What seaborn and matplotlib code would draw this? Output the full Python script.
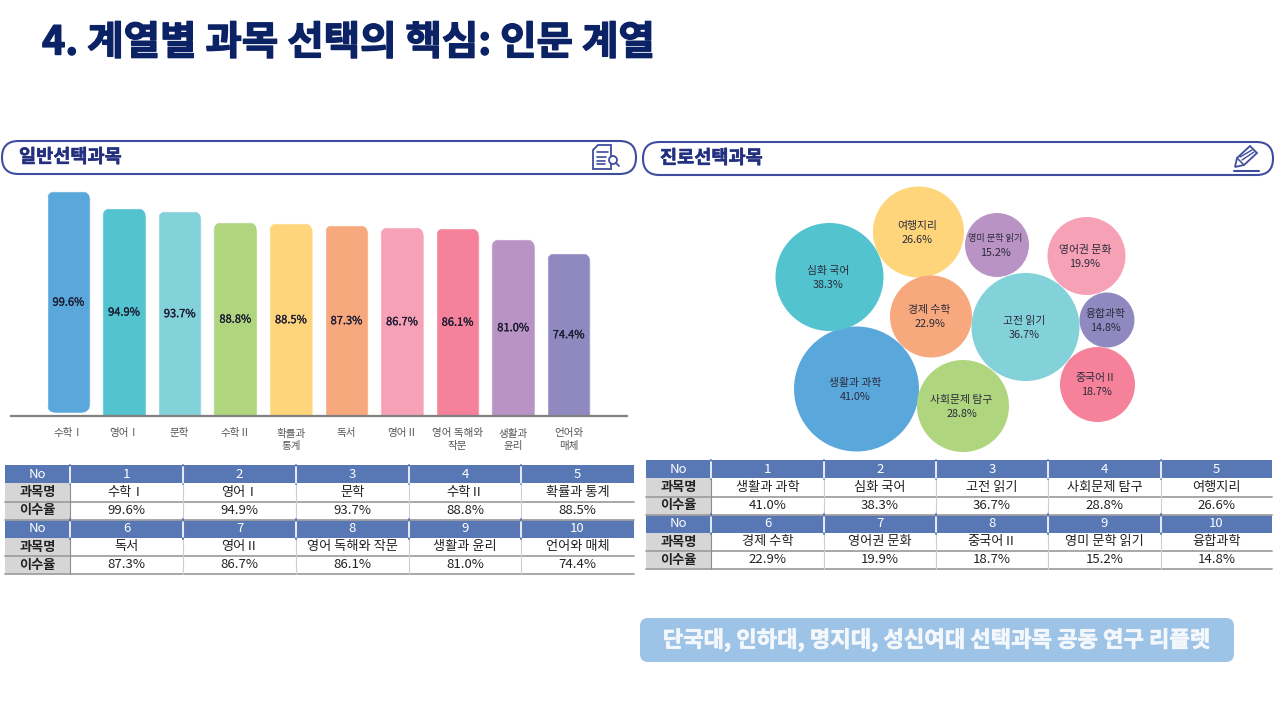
import matplotlib
matplotlib.use('Agg')
import matplotlib.pyplot as plt
import matplotlib.patheffects as pe
import seaborn as sns
from matplotlib.patches import FancyBboxPatch, Polygon, Circle

# general elective subjects
bar_names = ['수학Ⅰ', '영어Ⅰ', '문학', '수학Ⅱ', '확률과 통계', '독서', '영어Ⅱ', '영어 독해와 작문', '생활과 윤리', '언어와 매체']
bar_ticks = ['수학Ⅰ', '영어Ⅰ', '문학', '수학Ⅱ', '확률과\n통계', '독서', '영어Ⅱ', '영어 독해와\n작문', '생활과\n윤리', '언어와\n매체']
bar_values = [99.6, 94.9, 93.7, 88.8, 88.5, 87.3, 86.7, 86.1, 81.0, 74.4]
# heights as drawn in the picture (first bar is a bit taller than its number and floats)
bar_drawn = [102.7, 95.0, 93.6, 88.6, 88.1, 87.2, 86.3, 85.8, 80.8, 74.4]
bar_floor = [1.4, 0, 0, 0, 0, 0, 0, 0, 0, 0]
bar_colors = ['#5aa7dc', '#52c3cf', '#83d1d9', '#afd67e', '#fed57b', '#f8a87d', '#f7a1b7', '#f5829a', '#b993c3', '#9089c0']

# career elective subjects
bub_names = ['생활과 과학', '심화 국어', '고전 읽기', '사회문제 탐구', '여행지리', '경제 수학', '영어권 문화', '중국어Ⅱ', '영미 문학 읽기', '융합과학']
bub_values = [41.0, 38.3, 36.7, 28.8, 26.6, 22.9, 19.9, 18.7, 15.2, 14.8]
bub_x = [856.5, 829.5, 1025.5, 963, 918.5, 931, 1086.5, 1097.5, 997, 1107]
bub_y = [389, 277, 327, 406, 232, 316.5, 256, 384.5, 245, 320]
bub_diam = [125, 108, 108, 92, 91, 82, 78, 75, 64, 55]
bub_colors = ['#5aa7dc', '#52c3cf', '#83d1d9', '#afd67e', '#fed57b', '#f8a87d', '#f7a1b7', '#f5829a', '#b993c3', '#9089c0']

title = '4. 계열별 과목 선택의 핵심: 인문 계열'
footer = '단국대, 인하대, 명지대, 성신여대 선택과목 공동 연구 리플렛'
navy = '#0b2265'
pill_edge = '#3f4d9e'
text_dark = '#2b2b3a'

sns.set_theme(style='white')
plt.rcParams['font.family'] = ['Noto Sans CJK KR', 'DejaVu Sans']

W, H = 1280, 720
fig = plt.figure(figsize=(12.8, 7.2), dpi=100, facecolor='white')


def px_axes(x0, y0, x1, y1):
    return fig.add_axes([x0 / W, 1 - y1 / H, (x1 - x0) / W, (y1 - y0) / H])


def heavy(color, lw=0.6):
    return [pe.withStroke(linewidth=lw, foreground=color)]


# overlay in pixel units for titles, pills, tables
page = px_axes(0, 0, W, H)
page.set_xlim(0, W)
page.set_ylim(H, 0)
page.axis('off')

page.text(42, 43, title, fontsize=28.5, fontweight='bold', color=navy, va='center', ha='left',
          path_effects=heavy(navy, 1.0))


def pill(x0, y0, x1, y1, label):
    r = (y1 - y0) / 2
    page.add_patch(FancyBboxPatch((x0, y0), x1 - x0, y1 - y0, boxstyle=f'round,pad=0,rounding_size={r}',
                                  fc='white', ec=pill_edge, lw=1.5))
    page.text(x0 + 17, (y0 + y1) / 2 - 0.5, label, fontsize=13.4, fontweight='bold', color='#22307f', va='center',
              path_effects=heavy('#22307f', 0.4))


pill(2, 141, 636, 174, '일반선택과목')
pill(643, 142, 1273, 175, '진로선택과목')

# document icon
page.add_patch(Polygon([(598, 145), (611, 145), (611, 169), (593, 169), (593, 150)], closed=True, fc='white', ec=pill_edge, lw=1.3))
for yy, x2 in [(152, 608), (157, 606), (161, 605), (164, 605)]:
    page.plot([597, x2], [yy, yy], color=pill_edge, lw=1.2)
page.add_patch(Circle((613, 160), 4, fc='white', ec=pill_edge, lw=1.3))
page.plot([616, 619], [163, 166], color=pill_edge, lw=1.3)

# pencil icon
page.add_patch(Polygon([(1235, 167), (1237, 158), (1250, 146), (1257, 153), (1244, 165)], closed=True, fc='white', ec=pill_edge, lw=1.3))
page.plot([1237, 1244], [158, 165], color=pill_edge, lw=1.1)
page.plot([1240, 1252], [157, 150], color=pill_edge, lw=1.0)
page.plot([1242, 1254], [160, 152], color=pill_edge, lw=1.0)
page.plot([1234, 1259], [171, 171], color=pill_edge, lw=1.5)

# footer
page.add_patch(FancyBboxPatch((640, 618), 594, 44, boxstyle='round,pad=0,rounding_size=8', fc='#9dc3e6', ec='none'))
page.text(937, 640, footer, fontsize=16, fontweight='bold', color='#f4f8fc', ha='center', va='center',
          path_effects=heavy('#f4f8fc', 0.5))


def make_table(x_edges, y_edges, names, values):
    header = '#5877b5'
    rows = []
    for start in (0, 5):
        nums = [str(i + 1) for i in range(start, start + 5)]
        rows.append(['No'] + nums)
        rows.append(['과목명'] + names[start:start + 5])
        rows.append(['이수율'] + [f'{v:.1f}%' for v in values[start:start + 5]])
    tw = x_edges[-1] - x_edges[0]
    th = y_edges[-1] - y_edges[0]
    col_w = [(x_edges[i + 1] - x_edges[i]) / tw for i in range(len(x_edges) - 1)]
    tb = page.table(cellText=rows, colWidths=col_w, cellLoc='center',
                    bbox=[x_edges[0] / W, 1 - y_edges[-1] / H, tw / W, th / H])
    tb.auto_set_font_size(False)
    for (r, c), cell in tb.get_celld().items():
        cell.set_linewidth(0)
        cell.PAD = 0.01
        txt = cell.get_text()
        txt.set_fontsize(9.5)
        txt.set_color('#222222')
        if r % 3 == 0:
            cell.set_facecolor(header)
            txt.set_color('white')
        elif c == 0:
            cell.set_facecolor('#d6d6d6')
            txt.set_fontweight('bold')
    # rules
    for i in (2, 3, 5, 6):
        page.plot([x_edges[0], x_edges[-1]], [y_edges[i], y_edges[i]], color='#a0a0a0', lw=1.3, zorder=6)
    for j, xx in enumerate(x_edges[1:-1]):
        line_col = '#8c8c8c' if j == 0 else '#cfcfcf'
        page.plot([xx, xx], [y_edges[0], y_edges[-1]], color=line_col, lw=0.8, zorder=6)
        for i in (0, 3):
            page.plot([xx, xx], [y_edges[i] - 0.5, y_edges[i + 1] + 0.5], color=header, lw=1.4, zorder=7)
            page.plot([xx, xx], [y_edges[i] + 2, y_edges[i + 1] - 1], color='white', lw=1.2, zorder=8)


make_table([5, 70, 183, 296, 409, 521, 634], [465, 483.5, 501.5, 519.5, 538, 556, 574], bar_names, bar_values)
make_table([646, 711, 824, 936, 1048, 1161, 1272], [460, 478.5, 496.5, 514.5, 533, 551, 569], bub_names, bub_values)

# bar chart
ax = px_axes(11, 180, 627, 416)
sns.barplot(x=bar_ticks, y=bar_drawn, hue=bar_ticks, palette=bar_colors, legend=False,
            width=0.785, saturation=1, ax=ax)
ax.set_xlim(-1.035, 10.05)
ax.set_ylim(0, 236 / 2.19)
ax.patch.set_alpha(0)
sns.despine(ax=ax, left=True)
ax.spines['bottom'].set_color('#808080')
ax.spines['bottom'].set_linewidth(1.6)
ax.set_yticks([])
ax.tick_params(axis='x', length=0, pad=9, labelsize=7.6, labelcolor='#555555')
for lab in ax.get_xticklabels():
    lab.set_linespacing(1.3)
x_per_px = 11.085 / 616
y_per_px = 1 / 2.19
for bar, val, floor in zip(ax.patches, bar_values, bar_floor):
    top = bar.get_height()
    bar.set_y(floor)
    bar.set_height(top - floor)
    bx, bw = bar.get_x(), bar.get_width()
    clip = FancyBboxPatch((bx, floor - (0 if floor else 20)), bw, top - floor + (0 if floor else 20),
                          boxstyle=f'round,pad=0,rounding_size={10 * x_per_px}',
                          mutation_aspect=y_per_px / x_per_px, transform=ax.transData)
    bar.set_clip_path(clip)
    ax.text(bx + bw / 2, (top + floor) / 2 - 0.3, f'{val:.1f}%', ha='center', va='center', fontsize=8, color='#1d1d33',
            path_effects=heavy('#1d1d33', 0.2))

# bubble chart
bx_ax = px_axes(640, 180, 1280, 460)
bx_ax.patch.set_alpha(0)
sns.scatterplot(x=bub_x, y=bub_y, hue=bub_names, palette=bub_colors, size=bub_names,
                sizes={n: (d * 0.72) ** 2 for n, d in zip(bub_names, bub_diam)},
                legend=False, linewidth=0, alpha=1, ax=bx_ax, clip_on=False)
bx_ax.set_xlim(640, 1280)
bx_ax.set_ylim(460, 180)
bx_ax.axis('off')
for n, v, xx, yy in zip(bub_names, bub_values, bub_x, bub_y):
    size = 6.6 if n == '영미 문학 읽기' else 7.8
    bx_ax.text(xx - 1.5, yy - 6, n, ha='center', va='center', fontsize=size, color=text_dark)
    bx_ax.text(xx - 1.5, yy + 8, f'{v:.1f}%', ha='center', va='center', fontsize=7.8, color=text_dark)

fig.savefig('out.png', dpi=100)
